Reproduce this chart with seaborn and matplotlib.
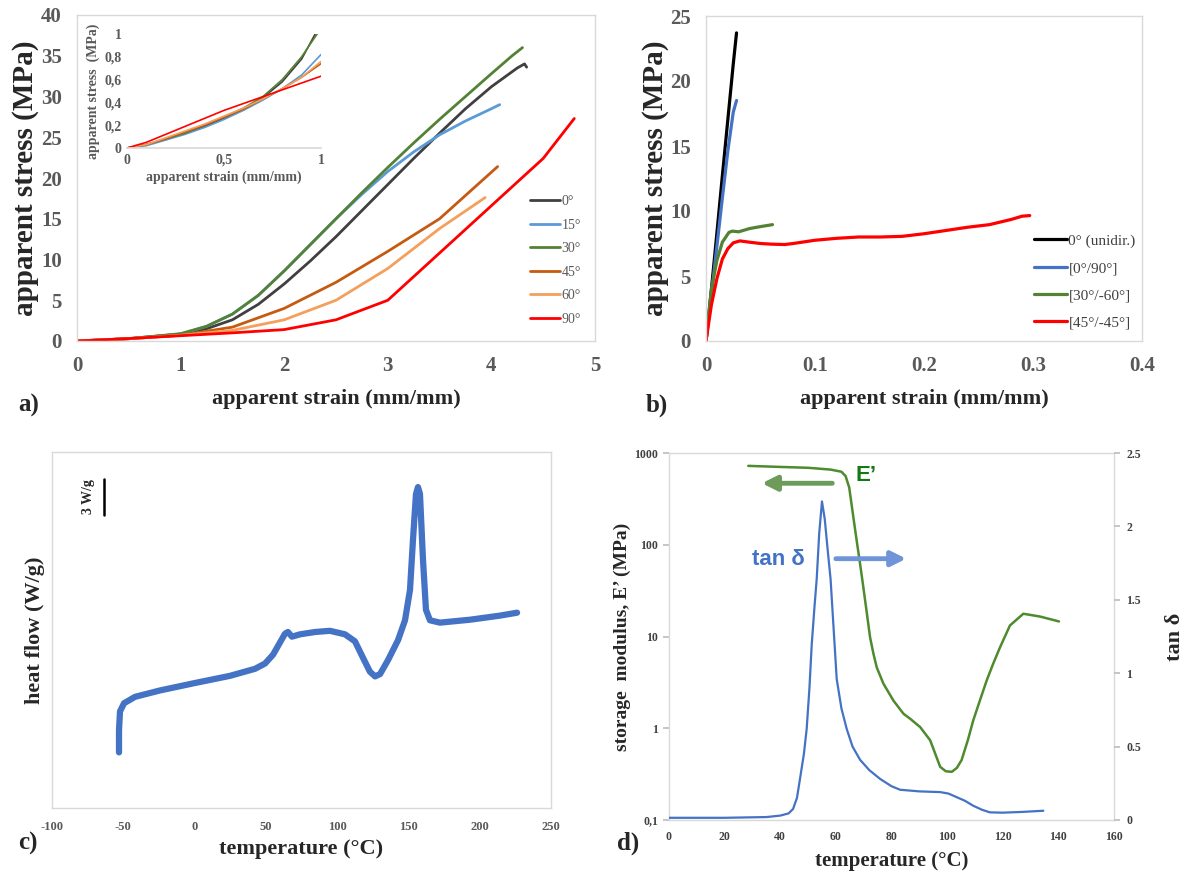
import numpy as np
import pandas as pd
import matplotlib
matplotlib.use("Agg")
import matplotlib.pyplot as plt
import seaborn as sns
from matplotlib.ticker import FuncFormatter, FixedLocator, NullLocator

sns.set_theme(style="white")
plt.rcParams['font.family'] = ['Liberation Serif', 'DejaVu Serif']
plt.rcParams['axes.unicode_minus'] = False

# ---------------- data: a) uniaxial tension, fibre angle series ----------------
a_names = ["0°", "15°", "30°", "45°", "60°", "90°"]
a_colors = ["#404040", "#5B9BD5", "#548235", "#C55A11", "#F4A05C", "#FF0000"]

strain_0 = [0, 0.5, 1.0, 1.25, 1.5, 1.75, 2.0, 2.25, 2.5, 2.75, 3.0, 3.25, 3.5, 3.75, 4.0, 4.25, 4.32, 4.34]
stress_0 = [0, 0.3, 0.85, 1.5, 2.6, 4.5, 7.0, 9.8, 12.8, 16.0, 19.2, 22.4, 25.5, 28.5, 31.2, 33.5, 34.0, 33.6]
strain_15 = [0, 0.5, 1.0, 1.25, 1.5, 1.75, 2.0, 2.25, 2.5, 2.75, 3.0, 3.25, 3.5, 3.75, 4.0, 4.08]
stress_15 = [0, 0.28, 0.85, 1.8, 3.3, 5.6, 8.6, 11.8, 15.0, 18.0, 20.8, 23.2, 25.3, 27.0, 28.5, 29.0]
strain_30 = [0, 0.5, 1.0, 1.25, 1.5, 1.75, 2.0, 2.25, 2.5, 2.75, 3.0, 3.25, 3.5, 3.75, 4.0, 4.2, 4.3]
stress_30 = [0, 0.28, 0.9, 1.8, 3.3, 5.6, 8.6, 11.8, 15.0, 18.2, 21.3, 24.3, 27.2, 30.0, 32.8, 35.0, 36.0]
strain_45 = [0, 0.5, 1.0, 1.5, 2.0, 2.5, 3.0, 3.5, 4.06]
stress_45 = [0, 0.28, 0.7, 1.7, 4.0, 7.2, 11.0, 15.0, 21.4]
strain_60 = [0, 0.5, 1.0, 1.5, 2.0, 2.5, 3.0, 3.5, 3.94]
stress_60 = [0, 0.28, 0.7, 1.3, 2.6, 5.0, 8.9, 13.8, 17.6]
strain_90 = [0, 0.5, 1.0, 1.5, 2.0, 2.5, 3.0, 3.5, 4.0, 4.5, 4.8]
stress_90 = [0, 0.3, 0.65, 1.0, 1.4, 2.6, 5.0, 10.8, 16.6, 22.4, 27.3]

# inset: low-strain region
in_strain_0 = [0, 0.1, 0.2, 0.3, 0.4, 0.5, 0.6, 0.7, 0.8, 0.9, 0.97]
in_stress_0 = [0, 0.03, 0.08, 0.13, 0.19, 0.26, 0.34, 0.44, 0.58, 0.78, 1.0]
in_strain_15 = [0, 0.1, 0.2, 0.3, 0.4, 0.5, 0.6, 0.7, 0.8, 0.9, 1.0]
in_stress_15 = [0, 0.02, 0.07, 0.12, 0.18, 0.25, 0.33, 0.42, 0.52, 0.64, 0.82]
in_strain_30 = [0, 0.1, 0.2, 0.3, 0.4, 0.5, 0.6, 0.7, 0.8, 0.9, 0.98]
in_stress_30 = [0, 0.03, 0.08, 0.13, 0.2, 0.27, 0.35, 0.45, 0.6, 0.8, 1.0]
in_strain_45 = [0, 0.1, 0.2, 0.3, 0.4, 0.5, 0.6, 0.7, 0.8, 0.9, 1.0]
in_stress_45 = [0, 0.03, 0.08, 0.14, 0.2, 0.27, 0.34, 0.43, 0.52, 0.62, 0.74]
in_strain_60 = [0, 0.1, 0.2, 0.3, 0.4, 0.5, 0.6, 0.7, 0.8, 0.9, 1.0]
in_stress_60 = [0, 0.03, 0.09, 0.15, 0.21, 0.28, 0.35, 0.43, 0.52, 0.62, 0.76]
in_strain_90 = [0, 0.1, 0.2, 0.3, 0.4, 0.5, 0.6, 0.7, 0.8, 0.9, 1.0]
in_stress_90 = [0, 0.05, 0.12, 0.19, 0.26, 0.33, 0.39, 0.45, 0.51, 0.57, 0.63]

# ---------------- data: b) laminate lay-ups ----------------
b_names = ["0° (unidir.)", "[0°/90°]", "[30°/-60°]", "[45°/-45°]"]
b_colors = ["#000000", "#4472C4", "#548235", "#FF0000"]
b_strain_0 = [0, 0.005, 0.01, 0.015, 0.02, 0.025, 0.028]
b_stress_0 = [0, 4.0, 8.3, 12.7, 17.0, 21.3, 23.7]
b_strain_090 = [0, 0.005, 0.01, 0.015, 0.02, 0.025, 0.028]
b_stress_090 = [0, 3.6, 7.3, 11.0, 14.6, 17.6, 18.5]
b_strain_3060 = [0, 0.005, 0.01, 0.015, 0.021, 0.024, 0.03, 0.04, 0.05, 0.061]
b_stress_3060 = [0, 4.0, 6.2, 7.6, 8.35, 8.45, 8.4, 8.65, 8.8, 8.95]
b_strain_4545 = [0, 0.005, 0.01, 0.015, 0.02, 0.025, 0.031, 0.04, 0.05, 0.06, 0.072, 0.08,
                 0.1, 0.12, 0.14, 0.16, 0.18, 0.2, 0.22, 0.24, 0.26, 0.28, 0.29, 0.297]
b_stress_4545 = [0, 2.8, 4.8, 6.3, 7.1, 7.55, 7.7, 7.6, 7.5, 7.45, 7.42, 7.5,
                 7.75, 7.9, 8.0, 8.0, 8.05, 8.25, 8.5, 8.75, 8.95, 9.35, 9.6, 9.65]

# ---------------- data: c) DSC trace ----------------
dsc_temp = [-53.0, -53.0, -52.3, -49.5, -41.8, -24.2, -1.1, 24.9, 42.4, 49.4, 55.0, 59.9, 63.4,
            65.5, 68.3, 74.0, 84.5, 95.0, 105.5, 112.5, 118.1, 123.0, 126.6, 130.1, 135.7,
            142.7, 147.6, 151.1, 153.2, 155.3, 156.7, 158.1, 160.2, 162.3, 165.1, 172.1,
            193.2, 214.2, 226.2]
dsc_flow = [6.3, 8.2, 9.8, 10.5, 11.05, 11.6, 12.2, 12.85, 13.45, 13.9, 14.65, 15.7, 16.45,
            16.6, 16.2, 16.4, 16.6, 16.7, 16.4, 15.8, 14.4, 13.2, 12.8, 13.0, 14.2,
            15.9, 17.6, 20.2, 24.5, 28.4, 29.0, 28.4, 22.8, 18.5, 17.6, 17.4,
            17.65, 18.0, 18.25]

# ---------------- data: d) DMA ----------------
dma_temp_E = [28.5, 40, 50, 58, 62, 63.5, 64.8, 66.3, 67.5, 68.7, 69.9, 72.3, 73.5, 74.7, 77.1,
              80.7, 84.3, 86.7, 90.3, 93.9, 97.5, 99.5, 101.7, 103.5, 105.2, 107.5, 109.4,
              112.0, 114.2, 116.5, 119.0, 122.6, 127.4, 133.4, 140.2]
dma_E = [724, 705, 690, 660, 625, 560, 420, 198, 110, 62, 34, 9.8, 6.5, 4.6, 3.06,
         2.0, 1.44, 1.27, 1.03, 0.74, 0.38, 0.34, 0.335, 0.37, 0.45, 0.75, 1.22,
         2.1, 3.3, 5.0, 7.6, 13.2, 17.7, 16.5, 14.6]
dma_temp_tan = [0, 20, 35, 40, 43, 44.6, 46, 47.1, 48.5, 49.5, 50.5, 51.3, 52.3, 53.1, 54.0,
                55.0, 56.0, 57.0, 58.1, 59.2, 60.3, 62.0, 63.9, 66.0, 68.7, 72.0, 75.9, 80.0,
                83.1, 90.0, 97.5, 100.5, 103.5, 106.5, 109.4, 112.5, 115.4, 120.0, 127.0, 134.6]
dma_tan = [0.015, 0.015, 0.02, 0.03, 0.045, 0.075, 0.15, 0.28, 0.45, 0.62, 0.9, 1.19, 1.45,
           1.64, 1.95, 2.17, 2.05, 1.85, 1.64, 1.3, 0.96, 0.76, 0.62, 0.5, 0.41, 0.34, 0.28,
           0.23, 0.206, 0.195, 0.19, 0.18, 0.155, 0.13, 0.097, 0.07, 0.052, 0.05, 0.055, 0.063]

# ---------------- layout helpers ----------------
W, H = 1192, 874
fig = plt.figure(figsize=(W / 100, H / 100), dpi=100)
FRAME = "#D9D9D9"
TICKC = "#595959"


def ax_at(left, top, right, bottom):
    return fig.add_axes([left / W, 1 - bottom / H, (right - left) / W, (bottom - top) / H])


def frame(ax, color=FRAME):
    for s in ax.spines.values():
        s.set_visible(True)
        s.set_color(color)
        s.set_linewidth(1.0)


def curves_df(xs, ys, names):
    parts = [pd.DataFrame({"x": x, "y": y, "series": n}) for x, y, n in zip(xs, ys, names)]
    return pd.concat(parts, ignore_index=True)


def bold_ticks(*axes_list):
    for ax in axes_list:
        for t in ax.get_xticklabels() + ax.get_yticklabels():
            t.set_fontweight("bold")


def comma_fmt(v, p):
    if v == 0:
        return "0"
    if v == 1:
        return "1"
    return ("%.1f" % v).replace(".", ",")


# ================= a) =================
ax_a = ax_at(77, 15, 595, 341)
df_a = curves_df([strain_0, strain_15, strain_30, strain_45, strain_60, strain_90],
                 [stress_0, stress_15, stress_30, stress_45, stress_60, stress_90], a_names)
sns.lineplot(data=df_a, x="x", y="y", hue="series", palette=dict(zip(a_names, a_colors)),
             hue_order=a_names, sort=False, estimator=None, lw=2.0, ax=ax_a)
ax_a.set_xlim(0, 5)
ax_a.set_ylim(0, 40)
ax_a.set_xticks(range(0, 6))
ax_a.set_yticks(range(0, 41, 5))
frame(ax_a)
ax_a.tick_params(axis="both", which="major", direction="out", length=5, color="#BFBFBF",
                 labelsize=15, labelcolor=TICKC, pad=6)
bold_ticks(ax_a)
ax_a.set_xlabel("apparent strain (mm/mm)", fontsize=16, fontweight="bold", labelpad=9)
ax_a.set_ylabel("apparent stress (MPa)", fontsize=21, fontweight="bold", labelpad=1)
h, l = ax_a.get_legend_handles_labels()
ax_a.legend(h, l, loc="upper left", bbox_to_anchor=((530 - 77) / 518, (341 - 195) / 326),
            frameon=False, handlelength=2.15, handletextpad=0.1, labelspacing=0.76,
            prop=dict(size=10), labelcolor=TICKC, borderaxespad=0, borderpad=0)

# inset
ax_i = ax_at(127, 34, 321, 148)
df_i = curves_df([in_strain_0, in_strain_15, in_strain_30, in_strain_45, in_strain_60, in_strain_90],
                 [in_stress_0, in_stress_15, in_stress_30, in_stress_45, in_stress_60, in_stress_90],
                 a_names)
sns.lineplot(data=df_i, x="x", y="y", hue="series", palette=dict(zip(a_names, a_colors)),
             hue_order=a_names, sort=False, estimator=None, lw=1.2, ax=ax_i, legend=False)
ax_i.set_xlim(0, 1)
ax_i.set_ylim(0, 1)
ax_i.set_xticks([0, 0.5, 1])
ax_i.set_yticks([0, 0.2, 0.4, 0.6, 0.8, 1])
ax_i.xaxis.set_major_formatter(FuncFormatter(comma_fmt))
ax_i.yaxis.set_major_formatter(FuncFormatter(comma_fmt))
ax_i.set_facecolor("none")
for side in ["top", "right", "left"]:
    ax_i.spines[side].set_visible(False)
ax_i.spines["bottom"].set_color(FRAME)
ax_i.tick_params(axis="both", length=0, labelsize=10, labelcolor=TICKC, pad=4)
bold_ticks(ax_i)
ax_i.set_xlabel("apparent strain (mm/mm)", fontsize=10, fontweight="bold", color=TICKC, labelpad=3)
ax_i.set_ylabel("apparent stress  (MPa)", fontsize=10, fontweight="bold", color=TICKC, labelpad=3)

# ================= b) =================
ax_b = ax_at(706, 16, 1142, 341)
df_b = curves_df([b_strain_0, b_strain_090, b_strain_3060, b_strain_4545],
                 [b_stress_0, b_stress_090, b_stress_3060, b_stress_4545], b_names)
sns.lineplot(data=df_b, x="x", y="y", hue="series", palette=dict(zip(b_names, b_colors)),
             hue_order=b_names, sort=False, estimator=None, lw=2.3, ax=ax_b)
ax_b.set_xlim(0, 0.4)
ax_b.set_ylim(0, 25)
ax_b.set_xticks([0, 0.1, 0.2, 0.3, 0.4])
ax_b.set_yticks(range(0, 26, 5))
ax_b.xaxis.set_major_formatter(FuncFormatter(lambda v, p: "0" if v == 0 else "%.1f" % v))
frame(ax_b)
ax_b.tick_params(axis="both", direction="out", length=5, color="#BFBFBF",
                 labelsize=15, labelcolor=TICKC, pad=6)
bold_ticks(ax_b)
ax_b.set_xlabel("apparent strain (mm/mm)", fontsize=16, fontweight="bold", labelpad=9)
ax_b.set_ylabel("apparent stress (MPa)", fontsize=21, fontweight="bold", labelpad=1)
h, l = ax_b.get_legend_handles_labels()
ax_b.legend(h, l, loc="upper left", bbox_to_anchor=((1034 - 706) / 436, (341 - 234) / 325),
            frameon=False, handlelength=2.15, handletextpad=0.1, labelspacing=0.88,
            prop=dict(size=11), labelcolor="#404040", borderaxespad=0, borderpad=0)

# ================= c) =================
ax_c = ax_at(52, 452, 551, 808)
sns.lineplot(x=dsc_temp, y=dsc_flow, sort=False, estimator=None, color="#4472C4",
             lw=4.5, ax=ax_c, solid_capstyle="round", solid_joinstyle="round")
ax_c.set_xlim(-100, 250)
ax_c.set_ylim(1.54, 32)
ax_c.set_xticks(range(-100, 251, 50))
ax_c.yaxis.set_major_locator(NullLocator())
frame(ax_c)
ax_c.tick_params(axis="x", direction="out", length=4, color="#BFBFBF",
                 labelsize=9, labelcolor=TICKC, pad=5)
bold_ticks(ax_c)
ax_c.set_xlabel("temperature (°C)", fontsize=16, fontweight="bold", labelpad=5)
ax_c.set_ylabel("heat flow (W/g)", fontsize=16, fontweight="bold", labelpad=5)
# 3 W/g scale bar
ax_c.plot([-63.5, -63.5], [26.65, 29.65], color="#000000", lw=1.8)
ax_c.text(-74.5, 28.15, "3 W/g", rotation=90, ha="center", va="center",
          fontsize=10, fontweight="bold")

# ================= d) =================
ax_d = ax_at(669, 453, 1114, 820)
ax_t = ax_d.twinx()
sns.lineplot(x=dma_temp_E, y=dma_E, sort=False, estimator=None, color="#4E8A2E", lw=1.8, ax=ax_d)
sns.lineplot(x=dma_temp_tan, y=dma_tan, sort=False, estimator=None, color="#4472C4", lw=1.6, ax=ax_t)
ax_d.set_yscale("log")
ax_d.set_ylim(0.1, 1000)
ax_d.set_xlim(0, 160)
ax_t.set_ylim(0, 2.5)
ax_d.set_xticks(range(0, 161, 20))
ax_d.yaxis.set_major_locator(FixedLocator([0.1, 1, 10, 100, 1000]))
ax_d.yaxis.set_minor_locator(NullLocator())
ax_d.yaxis.set_major_formatter(FuncFormatter(lambda v, p: "0,1" if v < 0.5 else "%d" % round(v)))
ax_t.set_yticks([0, 0.5, 1, 1.5, 2, 2.5])
ax_t.yaxis.set_major_formatter(FuncFormatter(lambda v, p: "%g" % v))
frame(ax_d)
for s in ax_t.spines.values():
    s.set_visible(False)
ax_d.tick_params(axis="both", which="major", direction="out", length=4, color="#BFBFBF",
                 labelsize=8.5, labelcolor="#404040", pad=4)
ax_t.tick_params(axis="y", direction="out", length=4, color="#BFBFBF",
                 labelsize=8.5, labelcolor="#404040", pad=5)
bold_ticks(ax_d, ax_t)
ax_d.set_xlabel("temperature (°C)", fontsize=15, fontweight="bold", labelpad=6)
ax_d.set_ylabel("storage  modulus, E’ (MPa)", fontsize=14, fontweight="bold", labelpad=2)
ax_t.set_ylabel("tan δ", fontsize=16, fontweight="bold", labelpad=17)

ax_d.annotate("", xy=(32.4, 468), xytext=(59.7, 468),
              arrowprops=dict(arrowstyle="-|>", color="#6E9A5A", lw=3.5, mutation_scale=22))
ax_t.annotate("", xy=(86.3, 1.78), xytext=(59.0, 1.78),
              arrowprops=dict(arrowstyle="-|>", color="#7094D8", lw=3.5, mutation_scale=22))
ax_d.text(70.9, 562, "E’", color="#127A12", fontsize=16, fontweight="bold",
          family=["Liberation Sans", "DejaVu Sans"], ha="center", va="center")
ax_t.text(39.2, 1.775, "tan δ", color="#4472C4", fontsize=16, fontweight="bold",
          family=["Liberation Sans", "DejaVu Sans"], ha="center", va="center")

# panel letters
for x, y, s in [(18, 405, "a)"), (646, 405, "b)"), (18, 843, "c)"), (617, 843, "d)")]:
    fig.text(x / W, 1 - y / H, s, fontsize=18, fontweight="bold", ha="left", va="center")

fig.savefig("out.png", dpi=100, facecolor="white")
